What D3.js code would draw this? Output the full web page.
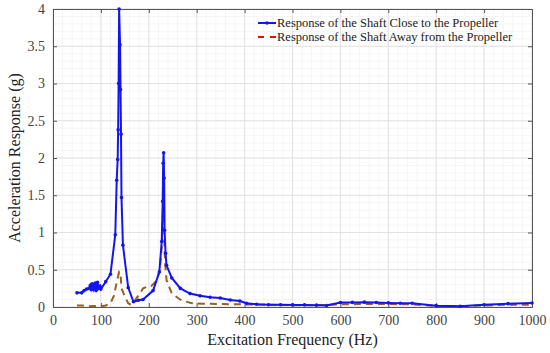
<!DOCTYPE html>
<html>
<head>
<meta charset="utf-8">
<script src="https://cdn.jsdelivr.net/npm/d3@7"></script>
<style>
  body { margin: 0; background: #fff; }
  text { font-family: "Liberation Serif", "Times New Roman", serif; }
</style>
</head>
<body>
<script>
// shaft close to the propeller
var closeFreq = [50, 60, 65, 70, 75, 78, 80, 82, 85, 88, 90, 93, 95, 98, 100, 110, 120, 130, 133, 135, 136, 137, 138, 140, 141, 142, 143, 146, 157, 168, 178, 188, 209, 222, 227, 229, 230, 231, 232, 233, 235, 237, 248, 266, 286, 307, 328, 349, 370, 390, 404, 425, 450, 475, 500, 525, 550, 571, 600, 625, 650, 675, 700, 725, 750, 800, 850, 900, 950, 1000];
var closeVal = [0.19, 0.19, 0.22, 0.24, 0.25, 0.29, 0.23, 0.31, 0.24, 0.32, 0.22, 0.33, 0.25, 0.28, 0.24, 0.34, 0.44, 0.97, 1.7, 1.98, 2.38, 3.0, 4.0, 3.52, 2.92, 2.32, 1.47, 0.83, 0.26, 0.07, 0.09, 0.1, 0.22, 0.47, 0.88, 1.42, 1.93, 2.07, 1.73, 1.03, 0.72, 0.56, 0.39, 0.25, 0.18, 0.15, 0.13, 0.12, 0.094, 0.08, 0.05, 0.036, 0.03, 0.03, 0.028, 0.028, 0.025, 0.02, 0.06, 0.062, 0.065, 0.06, 0.055, 0.05, 0.05, 0.018, 0.01, 0.03, 0.045, 0.053];

// shaft away from the propeller
var awayFreq = [50, 60, 75, 90, 100, 110, 120, 127, 133, 138, 141, 143, 150, 157, 163, 171, 180, 188, 196, 205, 216, 223, 227, 230, 232, 234, 237, 248, 268, 290, 310, 350, 400, 450, 500, 550, 600, 650, 700, 750, 800, 850, 900, 950, 1000];
var awayVal = [0.02, 0.02, 0.01, 0.015, 0.01, 0.02, 0.05, 0.15, 0.33, 0.47, 0.45, 0.25, 0.14, 0.05, 0.03, 0.09, 0.17, 0.25, 0.27, 0.28, 0.35, 0.5, 0.8, 1.38, 1.0, 0.6, 0.36, 0.18, 0.09, 0.05, 0.045, 0.04, 0.035, 0.03, 0.025, 0.025, 0.035, 0.04, 0.04, 0.035, 0.015, 0.01, 0.02, 0.03, 0.03];

var xTicks = [0, 100, 200, 300, 400, 500, 600, 700, 800, 900, 1000];
var yTicks = [0, 0.5, 1, 1.5, 2, 2.5, 3, 3.5, 4];
var seriesNames = ['Response of the Shaft Close to the Propeller', 'Response of the Shaft Away from the Propeller'];

var width = 550, height = 353;
var margin = {top: 9, right: 18, bottom: 46, left: 53};
var iw = width - margin.left - margin.right;
var ih = height - margin.top - margin.bottom;

var svg = d3.select('body').append('svg')
    .attr('width', width)
    .attr('height', height);

var g = svg.append('g')
    .attr('transform', 'translate(' + margin.left + ',' + margin.top + ')');

var x = d3.scaleLinear().domain([0, 1000]).range([0, iw]);
var y = d3.scaleLinear().domain([0, 4]).range([ih, 0]);

// minor grid
g.append('g').selectAll('line')
    .data(d3.range(0, 1001, 20))
    .enter().append('line')
    .attr('x1', function(d) { return x(d); })
    .attr('x2', function(d) { return x(d); })
    .attr('y1', 0).attr('y2', ih)
    .attr('stroke', '#f5f5f5').attr('stroke-width', 1);
g.append('g').selectAll('line')
    .data(d3.range(0, 4.01, 0.1))
    .enter().append('line')
    .attr('y1', function(d) { return y(d); })
    .attr('y2', function(d) { return y(d); })
    .attr('x1', 0).attr('x2', iw)
    .attr('stroke', '#f5f5f5').attr('stroke-width', 1);

// major grid
g.append('g').selectAll('line')
    .data(xTicks)
    .enter().append('line')
    .attr('x1', function(d) { return x(d); })
    .attr('x2', function(d) { return x(d); })
    .attr('y1', 0).attr('y2', ih)
    .attr('stroke', '#e2e2e2').attr('stroke-width', 1);
g.append('g').selectAll('line')
    .data(yTicks)
    .enter().append('line')
    .attr('y1', function(d) { return y(d); })
    .attr('y2', function(d) { return y(d); })
    .attr('x1', 0).attr('x2', iw)
    .attr('stroke', '#e2e2e2').attr('stroke-width', 1);

// axes (ticks inside, matlab style)
var xAxis = g.append('g')
    .attr('transform', 'translate(0,' + ih + ')')
    .call(d3.axisBottom(x).tickValues(xTicks).tickSize(-4).tickPadding(8).tickFormat(d3.format('d')));
var xTop = g.append('g')
    .call(d3.axisTop(x).tickValues(xTicks).tickSize(-4).tickFormat(''));
var yAxis = g.append('g')
    .call(d3.axisLeft(y).tickValues(yTicks).tickSize(-4).tickPadding(8).tickFormat(d3.format('')));
var yRight = g.append('g')
    .attr('transform', 'translate(' + iw + ',0)')
    .call(d3.axisRight(y).tickValues(yTicks).tickSize(-4).tickFormat(''));

[xAxis, xTop, yAxis, yRight].forEach(function(a) {
    a.select('.domain').attr('stroke', '#555');
    a.selectAll('.tick line').attr('stroke', '#555');
    a.selectAll('text')
        .style('font-family', '"Liberation Serif", serif')
        .style('font-size', '14px')
        .attr('fill', '#444');
});

var line = d3.line()
    .x(function(d) { return x(d[0]); })
    .y(function(d) { return y(d[1]); });

var awayData = awayFreq.map(function(f, i) { return [f, awayVal[i]]; });
var closeData = closeFreq.map(function(f, i) { return [f, closeVal[i]]; });

// away curve (dashed)
g.append('path')
    .datum(awayData)
    .attr('d', line)
    .attr('fill', 'none')
    .attr('stroke', '#9a5e1e')
    .attr('stroke-width', 2)
    .attr('stroke-dasharray', '7,5');

g.append('path')
    .datum(closeData)
    .attr('d', line)
    .attr('fill', 'none')
    .attr('stroke', '#1414f0')
    .attr('stroke-width', 2);

g.append('g').selectAll('circle')
    .data(closeData)
    .enter().append('circle')
    .attr('cx', function(d) { return x(d[0]); })
    .attr('cy', function(d) { return y(d[1]); })
    .attr('r', 1.8)
    .attr('fill', '#1414f0');

// legend
var legend = svg.append('g').attr('transform', 'translate(258,0)');
legend.append('line')
    .attr('x1', 0).attr('x2', 18).attr('y1', 23).attr('y2', 23)
    .attr('stroke', '#1414f0').attr('stroke-width', 2);
legend.append('circle')
    .attr('cx', 9).attr('cy', 23).attr('r', 1.8).attr('fill', '#1414f0');
legend.append('line')
    .attr('x1', 0).attr('x2', 18).attr('y1', 37).attr('y2', 37)
    .attr('stroke', '#e01010').attr('stroke-width', 2)
    .attr('stroke-dasharray', '6,6');
legend.selectAll('text.lab')
    .data(seriesNames)
    .enter().append('text')
    .attr('class', 'lab')
    .attr('x', 19)
    .attr('y', function(d, i) { return 27 + i * 14; })
    .style('font-size', '12.5px')
    .attr('fill', '#222')
    .text(function(d) { return d; });

// axis titles
svg.append('text')
    .attr('x', margin.left + iw / 2)
    .attr('y', 345)
    .attr('text-anchor', 'middle')
    .style('font-size', '16px')
    .attr('fill', '#222')
    .text('Excitation Frequency (Hz)');

svg.append('text')
    .attr('transform', 'translate(20,' + (margin.top + ih / 2) + ') rotate(-90)')
    .attr('text-anchor', 'middle')
    .style('font-size', '16px')
    .attr('fill', '#222')
    .text('Acceleration Response (g)');
</script>
</body>
</html>
